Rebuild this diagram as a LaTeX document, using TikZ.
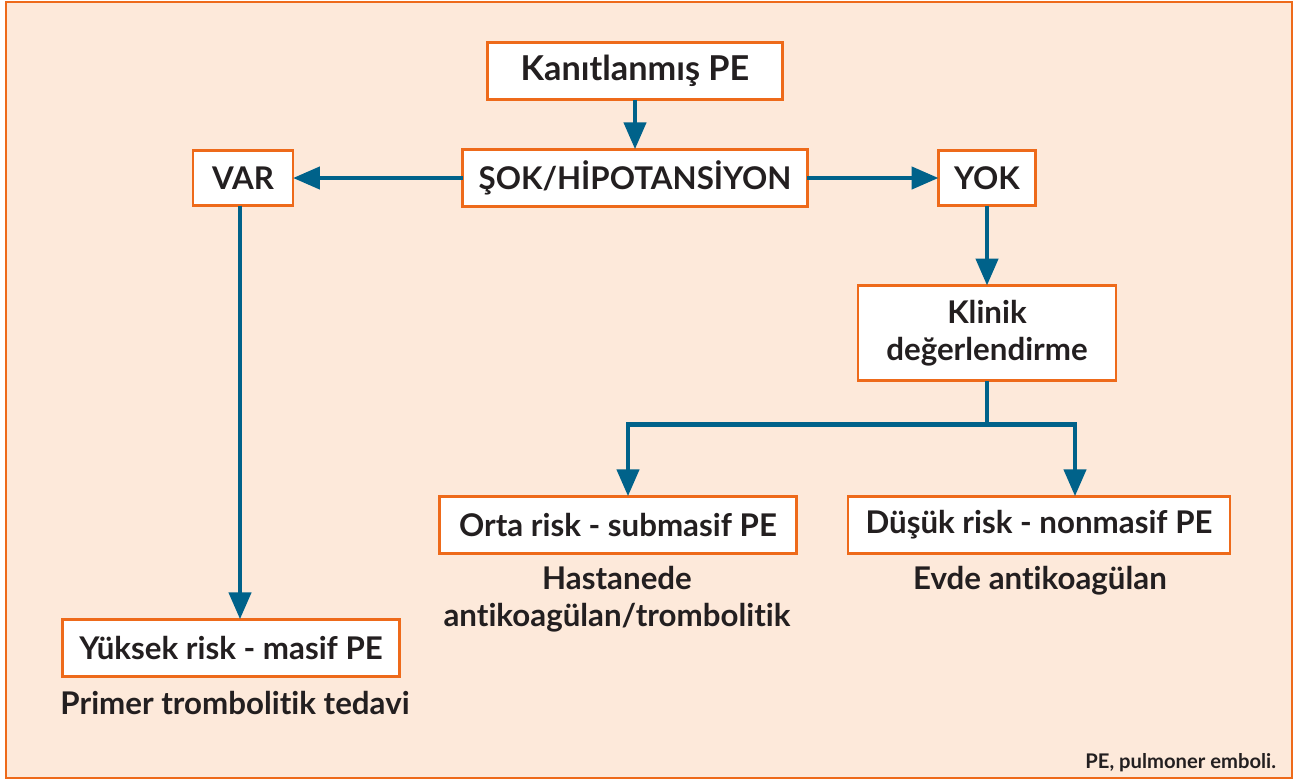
\documentclass[tikz,border=0pt]{standalone}
\usepackage{fontspec}
\setmainfont{Lato}[Ligatures=NoCommon]
\usetikzlibrary{arrows.meta}
\definecolor{peach}{HTML}{FDE9DA}
\definecolor{boxorange}{HTML}{EE6A1A}
\definecolor{flowblue}{HTML}{00628A}
\definecolor{inkgray}{HTML}{231F20}
\begin{document}
\begin{tikzpicture}[x=0.02cm,y=-0.02cm,inner sep=0pt,outer sep=0pt,
riskbox/.style={draw=boxorange,fill=white,rectangle,line width=1.6pt,minimum height=1.15cm,align=center,text=inkgray,font=\bfseries\fontsize{17.8}{21}\selectfont},
remark/.style={align=center,text=inkgray,font=\bfseries\fontsize{17.8}{21}\selectfont},
flow/.style={draw=flowblue,line width=2.6pt,-{Triangle[length=0.54cm,width=0.44cm]}}]

\useasboundingbox (0,0) rectangle (1298,782);
\draw[draw=boxorange,fill=peach,line width=1.2pt] (6,2) rectangle (1292,778);

\draw (635,71) node[riskbox,minimum width=5.9cm,font=\bfseries\fontsize{19.5}{21}\selectfont] (pe) {Kanıtlanmış PE};
\draw (635,178) node[riskbox,minimum width=6.9cm] (sok) {ŞOK/HİPOTANSİYON};
\draw (243,178) node[riskbox,minimum width=2cm,minimum height=1.1cm] (var) {VAR};
\draw (987,178) node[riskbox,minimum width=1.94cm,minimum height=1.1cm] (yok) {YOK};
\draw (987,333) node[riskbox,minimum width=5.16cm,minimum height=1.9cm] (klinik) {Klinik\\değerlendirme};
\draw (618,525) node[riskbox,minimum width=7.14cm] (orta) {Orta risk - submasif PE};
\draw (1039,525) node[riskbox,minimum width=7.64cm] (dusuk) {Düşük risk - nonmasif PE};
\draw (231,648) node[riskbox,minimum width=6.74cm] (yuksek) {Yüksek risk - masif PE};

\draw (617,599) node[remark] (hastane) {Hastanede\\antikoagülan/trombolitik};
\draw (1040,581) node[remark] (evde) {Evde antikoagülan};
\draw (235,703) node[remark] (primer) {Primer trombolitik tedavi};
\draw (1276,763) node[anchor=east,text=inkgray,font=\bfseries\fontsize{11.5}{13}\selectfont] (dipnot) {PE, pulmoner emboli.};

\draw[flow] (pe.south) -- (sok.north);
\draw[flow] (sok.west) -- (var.east);
\draw[flow] (sok.east) -- (yok.west);
\draw[flow] (yok.south) -- (klinik.north);
\draw[flow] ([xshift=-0.06cm]var.south) -- ([xshift=-0.06cm]var.south |- yuksek.north);
\draw[draw=flowblue,line width=2.6pt] (klinik.south) -- ++(0,44) coordinate (split);
\draw[flow] (split) -| ([xshift=0.2cm]orta.north);
\draw[flow] (split) -| ([xshift=0.72cm]dusuk.north);
\end{tikzpicture}
\end{document}
